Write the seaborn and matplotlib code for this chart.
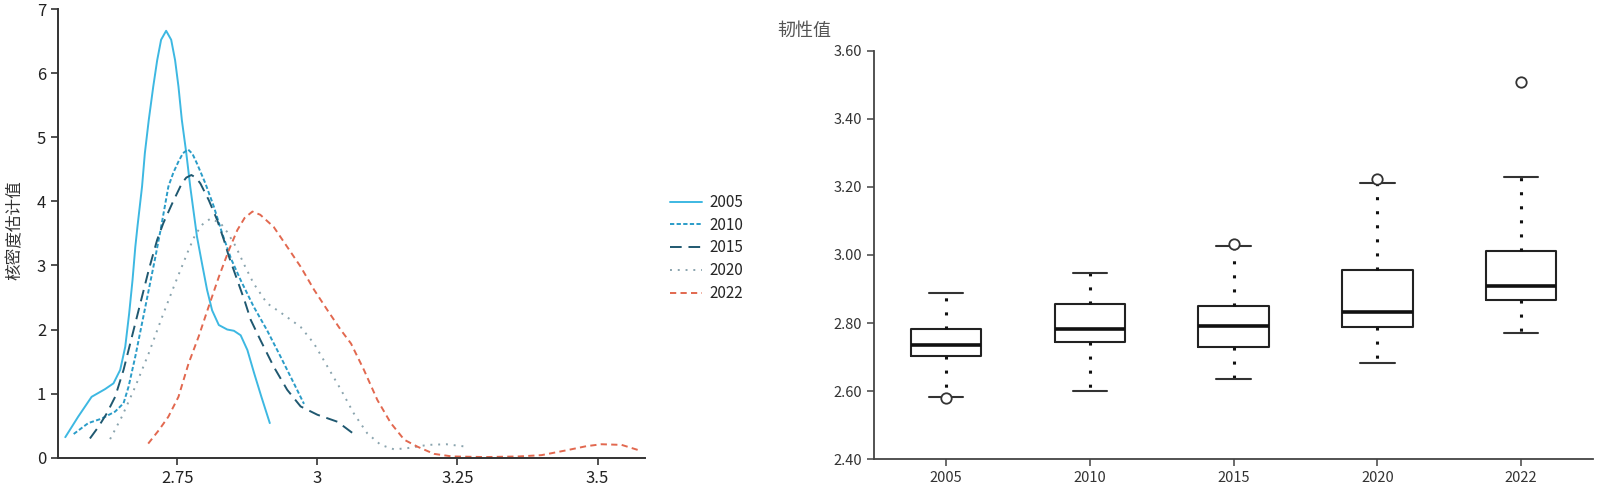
import numpy as np
import pandas as pd
import matplotlib
matplotlib.use("Agg")
import matplotlib.pyplot as plt
from matplotlib.lines import Line2D
import seaborn as sns

# ---------------- data ----------------
years = ["2005", "2010", "2015", "2020", "2022"]

# kernel density curves (x = toughness value, y = density)
kde_x_2005 = [2.550, 2.573, 2.597, 2.621, 2.636, 2.648, 2.657, 2.664, 2.670, 2.675, 2.679, 2.687, 2.692, 2.699, 2.707, 2.714, 2.721, 2.730, 2.739, 2.746, 2.752, 2.758, 2.766, 2.773, 2.785, 2.794, 2.803, 2.812, 2.824, 2.839, 2.851, 2.863, 2.875, 2.887, 2.900, 2.915]
kde_y_2005 = [0.32, 0.64, 0.95, 1.07, 1.16, 1.37, 1.73, 2.25, 2.77, 3.29, 3.62, 4.23, 4.75, 5.27, 5.79, 6.20, 6.52, 6.66, 6.52, 6.20, 5.79, 5.27, 4.75, 4.23, 3.45, 3.03, 2.62, 2.30, 2.07, 2.00, 1.98, 1.91, 1.68, 1.32, 0.95, 0.54]

kde_x_2010 = [2.565, 2.591, 2.615, 2.639, 2.654, 2.663, 2.675, 2.687, 2.699, 2.711, 2.720, 2.734, 2.743, 2.752, 2.760, 2.769, 2.777, 2.785, 2.800, 2.815, 2.830, 2.846, 2.863, 2.886, 2.910, 2.934, 2.958, 2.976]
kde_y_2010 = [0.37, 0.54, 0.61, 0.72, 0.85, 1.11, 1.58, 2.10, 2.62, 3.14, 3.55, 4.23, 4.45, 4.62, 4.75, 4.81, 4.74, 4.59, 4.28, 3.92, 3.50, 3.10, 2.77, 2.36, 1.99, 1.58, 1.16, 0.84]

kde_x_2015 = [2.594, 2.609, 2.624, 2.639, 2.654, 2.669, 2.684, 2.699, 2.714, 2.725, 2.741, 2.758, 2.766, 2.775, 2.783, 2.791, 2.806, 2.821, 2.833, 2.842, 2.857, 2.870, 2.881, 2.898, 2.922, 2.946, 2.970, 3.000, 3.036, 3.068]
kde_y_2015 = [0.30, 0.48, 0.69, 0.95, 1.37, 1.89, 2.41, 2.93, 3.40, 3.66, 3.97, 4.28, 4.37, 4.41, 4.37, 4.28, 4.02, 3.71, 3.40, 3.14, 2.77, 2.45, 2.15, 1.84, 1.42, 1.06, 0.80, 0.67, 0.56, 0.35]

kde_x_2020 = [2.630, 2.651, 2.675, 2.699, 2.723, 2.746, 2.770, 2.782, 2.795, 2.809, 2.827, 2.839, 2.854, 2.870, 2.886, 2.910, 2.940, 2.970, 2.994, 3.018, 3.042, 3.065, 3.089, 3.113, 3.137, 3.161, 3.197, 3.230, 3.268]
kde_y_2020 = [0.29, 0.64, 1.11, 1.63, 2.20, 2.72, 3.24, 3.48, 3.64, 3.73, 3.66, 3.52, 3.30, 3.00, 2.72, 2.41, 2.23, 2.04, 1.78, 1.42, 1.06, 0.69, 0.38, 0.20, 0.13, 0.15, 0.20, 0.21, 0.17]

kde_x_2022 = [2.698, 2.717, 2.734, 2.752, 2.770, 2.788, 2.806, 2.824, 2.842, 2.857, 2.870, 2.884, 2.898, 2.922, 2.946, 2.970, 2.994, 3.018, 3.042, 3.060, 3.083, 3.107, 3.131, 3.155, 3.179, 3.208, 3.240, 3.300, 3.360, 3.400, 3.447, 3.480, 3.507, 3.543, 3.576]
kde_y_2022 = [0.22, 0.43, 0.64, 0.95, 1.47, 1.89, 2.36, 2.82, 3.24, 3.55, 3.74, 3.84, 3.79, 3.60, 3.29, 2.98, 2.62, 2.30, 1.99, 1.78, 1.37, 0.90, 0.54, 0.28, 0.17, 0.06, 0.02, 0.01, 0.02, 0.04, 0.12, 0.18, 0.21, 0.20, 0.11]

# box plot statistics of 韧性值 by year
box_whislo = [2.584, 2.601, 2.635, 2.683, 2.772]
box_q1 = [2.703, 2.744, 2.731, 2.789, 2.867]
box_med = [2.736, 2.784, 2.791, 2.832, 2.910]
box_q3 = [2.782, 2.856, 2.850, 2.956, 3.011]
box_whishi = [2.888, 2.946, 3.027, 3.212, 3.229]
box_fliers = [[2.581], [], [3.033], [3.223], [3.508]]

left_xticks = [2.75, 3.0, 3.25, 3.5]
left_xticklabels = ["2.75", "3", "3.25", "3.5"]
right_yticks = [2.4, 2.6, 2.8, 3.0, 3.2, 3.4, 3.6]

# ---------------- style ----------------
sns.set_theme(style="ticks")
plt.rcParams["font.family"] = ["Noto Sans CJK SC", "DejaVu Sans"]
plt.rcParams["axes.unicode_minus"] = False

colors = {"2005": "#3db8e2", "2010": "#2a9cc8", "2015": "#1f5870", "2020": "#8aa4ae", "2022": "#e2684f"}
dashes = {"2005": "", "2010": (2.2, 1.2), "2015": (6, 3.5), "2020": (1, 3), "2022": (3.2, 2.2)}
axis_col = "#333333"

fig = plt.figure(figsize=(16, 4.92), dpi=100)
ax1 = fig.add_axes([0.03625, 0.0697, 0.3670, 0.9120])
ax2 = fig.add_axes([0.5463, 0.0665, 0.4494, 0.8305])

# ---------------- left: density curves ----------------
curves = {
    "2005": (kde_x_2005, kde_y_2005),
    "2010": (kde_x_2010, kde_y_2010),
    "2015": (kde_x_2015, kde_y_2015),
    "2020": (kde_x_2020, kde_y_2020),
    "2022": (kde_x_2022, kde_y_2022),
}
frames = [pd.DataFrame({"x": cx, "y": cy, "year": yr}) for yr, (cx, cy) in curves.items()]
df = pd.concat(frames, ignore_index=True)

sns.lineplot(data=df, x="x", y="y", hue="year", style="year", palette=colors,
             dashes=dashes, hue_order=years, style_order=years, sort=False,
             estimator=None, linewidth=1.4, ax=ax1, legend=False)
for ln in ax1.get_lines():
    ln.set_solid_joinstyle("round")
    ln.set_dash_joinstyle("round")

ax1.set_xlim(2.537, 3.585)
ax1.set_ylim(0, 7)
ax1.set_xticks(left_xticks)
ax1.set_xticklabels(left_xticklabels)
ax1.set_yticks(range(0, 8))
ax1.set_xlabel("")
ax1.set_ylabel("")
for s in ["top", "right"]:
    ax1.spines[s].set_visible(False)
for s in ["left", "bottom"]:
    ax1.spines[s].set_color(axis_col)
    ax1.spines[s].set_linewidth(1.4)
ax1.tick_params(axis="both", colors=axis_col, labelcolor="#222222", labelsize=12,
                length=5, width=1.2, direction="out")
fig.text(0.0095, 0.532, "核密度估计值", rotation=90, va="center", ha="center",
         fontsize=12, color="#333333")

handles = [Line2D([0], [0], color=colors[y], lw=1.4,
                  linestyle=(0, dashes[y]) if dashes[y] else "-") for y in years]
fig.legend(handles, years, loc="center left", bbox_to_anchor=(0.419, 0.496),
           frameon=False, fontsize=11, handlelength=2.1, handletextpad=0.45,
           labelspacing=0.38, borderpad=0, borderaxespad=0)

# ---------------- right: box plots ----------------
stats = []
for i, yr in enumerate(years):
    stats.append({"label": yr, "whislo": box_whislo[i], "q1": box_q1[i], "med": box_med[i],
                  "q3": box_q3[i], "whishi": box_whishi[i], "fliers": box_fliers[i]})

ax2.bxp(stats, positions=list(range(len(years))), widths=0.49, capwidths=0.24,
        showfliers=True, patch_artist=False,
        boxprops=dict(color="#222222", linewidth=1.5),
        medianprops=dict(color="#111111", linewidth=2.6),
        whiskerprops=dict(color="#111111", linewidth=2.2, linestyle=(0, (1, 3.6))),
        capprops=dict(color="#333333", linewidth=1.5),
        flierprops=dict(marker="o", markersize=7.5, markerfacecolor="white",
                        markeredgecolor="#333333", markeredgewidth=1.3, linestyle="none"))

ax2.set_xlim(-0.5, 4.5)
ax2.set_ylim(2.4, 3.6)
ax2.set_yticks(right_yticks)
ax2.set_yticklabels([f"{v:.2f}" for v in right_yticks])
ax2.set_xticks(range(len(years)))
ax2.set_xticklabels(years)
for s in ["top", "right"]:
    ax2.spines[s].set_visible(False)
for s in ["left", "bottom"]:
    ax2.spines[s].set_color("#444444")
    ax2.spines[s].set_linewidth(1.3)
ax2.tick_params(axis="both", colors="#444444", labelcolor="#333333", labelsize=10.5,
                length=5, width=1.1, direction="out")
fig.text(0.486, 0.938, "韧性值", va="center", ha="left", fontsize=13, color="#555555")

fig.savefig("out.png", dpi=100)
